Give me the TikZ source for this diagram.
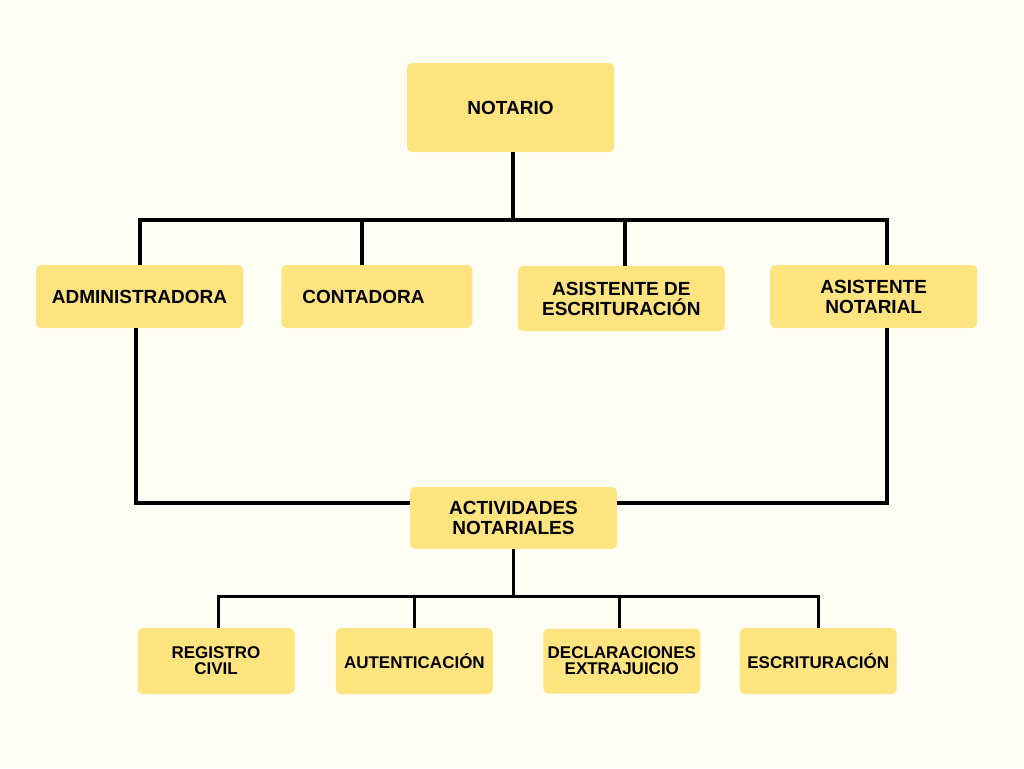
\documentclass[tikz,border=0pt]{standalone}
\usepackage{fontspec}
\setmainfont{Liberation Sans}
\usetikzlibrary{positioning}
\definecolor{cream}{HTML}{FFFEF4}
\definecolor{boxyellow}{HTML}{FFE480}

\begin{document}
\begin{tikzpicture}[
            x = 1pt, y = -1pt, % pixel units, y going down
            heavy/.style = {line width = 4pt}, % upper connectors
            light/.style = {line width = 3pt}, % lower connectors
            node distance = 40pt
        ]

        \tikzstyle{box}=[
            fill = boxyellow,
            rounded corners = 5pt,
            inner sep = 0pt,
            align = center,
            font = \bfseries\fontsize{19}{20}\selectfont,
            minimum width = 207pt,
            minimum height = 63pt
        ]
        \tikzstyle{smallbox}=[
            box,
            font = \bfseries\fontsize{17}{16}\selectfont,
            minimum width = 157pt,
            minimum height = 66pt
        ]

        \fill[cream] (0,0) rectangle (1024,768);

        \node[box, minimum height = 89pt] (notario) at (510.5,107.5) {NOTARIO};

        \node[box] (admin) at (139.5,296.5) {ADMINISTRADORA};
        \node[box, minimum width = 191pt, text width = 149pt, inner xsep = 21pt, align = left] (conta) [right=38pt of admin] {CONTADORA};
        \node[box, minimum height = 65pt] (asisesc) [right=45pt of conta, yshift=-2pt] {ASISTENTE DE\\ESCRITURACIÓN};
        \node[box] (notarial) [right=45pt of asisesc, yshift=2pt] {ASISTENTE\\NOTARIAL};

        \node[box, minimum height = 62pt] (activ) at (513.5,518) {ACTIVIDADES\\NOTARIALES};

        \node[smallbox] (registro) at (216,661) {REGISTRO\\CIVIL};
        \node[smallbox] (autent) [right=41pt of registro] {AUTENTICACIÓN};
        \node[smallbox, minimum height = 65pt] (decl) [right=50pt of autent] {DECLARACIONES\\EXTRAJUICIO};
        \node[smallbox] (escrit) [right=39pt of decl] {ESCRITURACIÓN};

        \coordinate (contadrop) at ([xshift=-15pt]conta.north);
        \coordinate (asisdrop) at ([xshift=3.5pt]asisesc.north);
        \coordinate (notarialtop) at ([xshift=13.5pt]notarial.north);
        \coordinate (notarialbot) at ([xshift=13.5pt]notarial.south);
        \coordinate (adminbot) at ([xshift=-3.5pt]admin.south);
        \coordinate (decldrop) at ([xshift=-2.5pt]decl.north);

        \draw[heavy] ([xshift=2.5pt]notario.south) -- ++(0,68) coordinate (bus);
        \draw[heavy] (admin.north) |- (bus) -| (notarialtop);
        \draw[heavy] (contadrop) -- (contadrop |- bus);
        \draw[heavy] (asisdrop) -- (asisdrop |- bus);

        \draw[heavy] (adminbot) |- ([yshift=15pt]activ.west);
        \draw[heavy] (notarialbot) |- ([yshift=15pt]activ.east);

        \draw[light] (activ.south) -- ++(0,47) coordinate (lowbus);
        \draw[light] ([xshift=2pt]registro.north) |- (lowbus) -| (escrit.north);
        \draw[light] (autent.north) -- (autent.north |- lowbus);
        \draw[light] (decldrop) -- (decldrop |- lowbus);

  \end{tikzpicture}
\end{document}
